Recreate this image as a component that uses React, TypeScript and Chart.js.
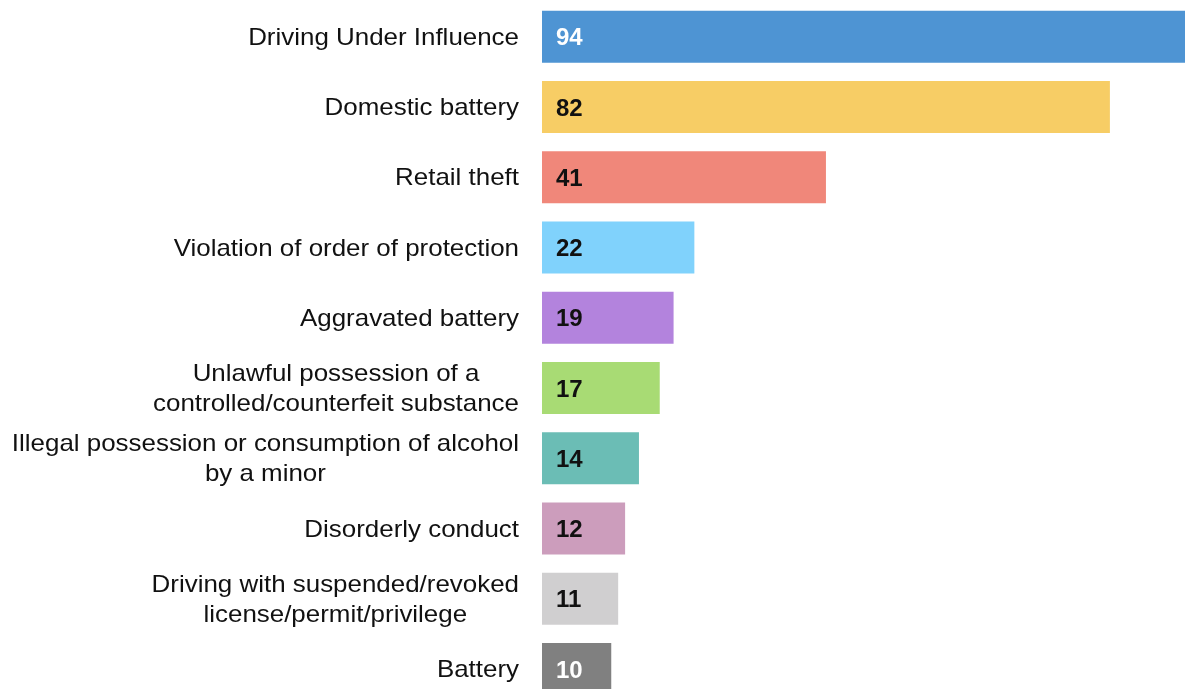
import React, { useEffect, useRef } from "react";
import { Chart, registerables } from "chart.js";

Chart.register(...registerables);

const categories: string[][] = [
  ["Driving Under Influence"],
  ["Domestic battery"],
  ["Retail theft"],
  ["Violation of order of protection"],
  ["Aggravated battery"],
  ["Unlawful possession of a", "controlled/counterfeit substance"],
  ["Illegal possession or consumption of alcohol", "by a minor"],
  ["Disorderly conduct"],
  ["Driving with suspended/revoked", "license/permit/privilege"],
  ["Battery"],
];

const values: number[] = [94, 82, 41, 22, 19, 17, 14, 12, 11, 10];

const barColors: string[] = [
  "#4E94D3",
  "#F7CD65",
  "#F0877A",
  "#80D2FC",
  "#B383DD",
  "#A8DB74",
  "#6BBDB5",
  "#CC9DBC",
  "#D0CFD0",
  "#808080",
];

const valueColors: string[] = [
  "#FFFFFF",
  "#111111",
  "#111111",
  "#111111",
  "#111111",
  "#111111",
  "#111111",
  "#111111",
  "#111111",
  "#FFFFFF",
];

const FONT = '"Liberation Sans", Arial, Helvetica, sans-serif';

const labelPlugin = {
  id: "customLabels",
  afterDatasetsDraw(chart: any) {
    const ctx = chart.ctx as CanvasRenderingContext2D;
    const yScale = chart.scales.y;
    const meta = chart.getDatasetMeta(0);
    const rightEdge = chart.chartArea.left - 23;
    const sx = 1.08;
    const lineH = 30;
    const size = 24;
    ctx.save();
    ctx.textBaseline = "alphabetic";
    // category labels
    ctx.font = `${size}px ${FONT}`;
    ctx.fillStyle = "#111111";
    categories.forEach((lines, i) => {
      const cy = yScale.getPixelForValue(i) - 0.4;
      const widths = lines.map((l) => ctx.measureText(l).width * sx);
      const block = Math.max(...widths);
      const cx = rightEdge - block / 2;
      const startY = cy - ((lines.length - 1) * lineH) / 2;
      lines.forEach((l, j) => {
        ctx.save();
        ctx.translate(cx, startY + j * lineH + 0.358 * size);
        ctx.scale(sx, 1);
        ctx.textAlign = "center";
        ctx.fillText(l, 0, 0);
        ctx.restore();
      });
    });
    // value labels
    const vsize = 24;
    ctx.font = `bold ${vsize}px ${FONT}`;
    meta.data.forEach((bar: any, i: number) => {
      ctx.save();
      ctx.fillStyle = valueColors[i];
      ctx.textAlign = "left";
      ctx.fillText(String(values[i]), bar.base + 14, bar.y + 0.358 * vsize);
      ctx.restore();
    });
    ctx.restore();
  },
};

export default function App() {
  const ref = useRef<HTMLCanvasElement | null>(null);

  useEffect(() => {
    if (!ref.current) return;
    const chart = new Chart(ref.current, {
      type: "bar",
      data: {
        labels: categories.map((c) => c.join(" ")),
        datasets: [
          {
            data: values,
            backgroundColor: barColors,
            borderWidth: 0,
            categoryPercentage: 1,
            barPercentage: 0.74,
          },
        ],
      },
      options: {
        indexAxis: "y",
        responsive: false,
        animation: false,
        maintainAspectRatio: false,
        layout: { padding: { top: 1.6, bottom: 1.9, left: 0, right: 0 } },
        plugins: {
          legend: { display: false },
          tooltip: { enabled: false },
        },
        scales: {
          x: {
            display: false,
            min: 0,
            max: 94,
          },
          y: {
            display: true,
            grid: { display: false, drawTicks: false },
            border: { display: false },
            ticks: { display: false },
            afterFit: (s: any) => {
              s.width = 542;
            },
          },
        },
      },
      plugins: [labelPlugin],
    });
    return () => chart.destroy();
  }, []);

  return (
    <div
      style={{
        position: "fixed",
        left: 0,
        top: 0,
        width: 1185,
        height: 689,
        overflow: "hidden",
        background: "#fff",
      }}
    >
      <canvas ref={ref} width={1193} height={706} style={{ display: "block" }} />
    </div>
  );
}
